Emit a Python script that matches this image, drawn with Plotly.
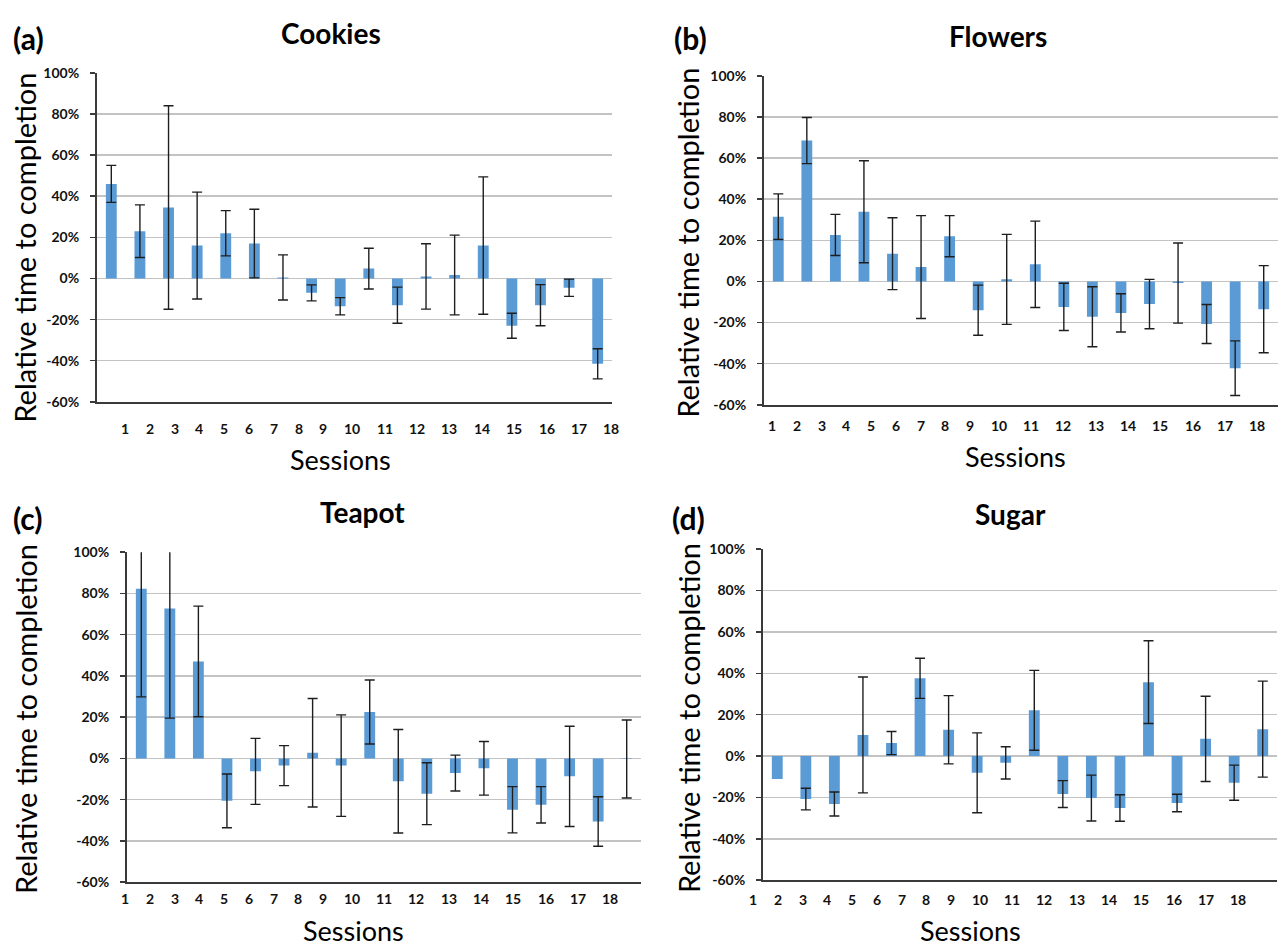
import numpy as np
import plotly.graph_objects as go

# ---------------- data ----------------
sessions = list(range(1, 19))
tick_labels = [str(i) for i in sessions]
y_tick_vals = [-60, -40, -20, 0, 20, 40, 60, 80, 100]
y_tick_text = [f"{v}%" for v in y_tick_vals]

cookies_mean = [46, 23, 34.5, 16, 22, 17, 0.5, -7, -13.5, 4.8, -13, 1, 1.7, 16, -23, -13, -4.5, -41.5]
cookies_err = [9, 12.8, 49.5, 26, 11, 16.7, 11, 3.9, 4.2, 9.9, 8.8, 15.9, 19.4, 33.4, 6.1, 10, 4.2, 7.3]

flowers_mean = [31.5, 68.5, 22.6, 33.9, 13.5, 7, 22, -14, 1, 8.3, -12.4, -17.2, -15.3, -11, -0.8, -20.7, -42.2, -13.5]
flowers_err = [11.1, 11.2, 10, 24.8, 17.5, 25, 10, 12.2, 21.9, 21, 11.5, 14.6, 9.3, 12, 19.5, 9.5, 13.3, 21.2]

teapot_mean = [82.2, 72.7, 47, -20.6, -6.3, -3.5, 2.7, -3.5, 22.5, -11.1, -17.1, -7.1, -4.8, -24.9, -22.5, -8.7, -30.6, -0.3]
teapot_err = [52.4, 53.2, 26.8, 13, 16, 9.7, 26.3, 24.6, 15.5, 25.1, 15, 8.7, 13, 11.2, 8.8, 24.3, 12, 18.9]

sugar_mean = [-11.1, -20.8, -23.2, 10.2, 6.3, 37.6, 12.7, -8.1, -3.3, 22.1, -18.4, -20.3, -25.1, 35.7, -22.7, 8.3, -12.9, 13]
sugar_err = [None, 5.2, 5.8, 28, 5.6, 9.7, 16.5, 19.3, 7.8, 19.3, 6.5, 11.1, 6.4, 20, 4.2, 20.6, 8.5, 23.2]

panel_letters = ["(a)", "(b)", "(c)", "(d)"]
panel_titles = ["Cookies", "Flowers", "Teapot", "Sugar"]
panel_means = [cookies_mean, flowers_mean, teapot_mean, sugar_mean]
panel_errs = [cookies_err, flowers_err, teapot_err, sugar_err]

# ---------------- layout (pixels) ----------------
W, H = 1280, 952
FONT = "Lato"
BAR_COLOR = "#5B9BD5"
GRID_COLOR = "#C3C3C3"
AXIS_COLOR = "#3A3A3A"

# plot area: x0, x1, y_top, y_bottom
areas = [(97, 612, 65, 400), (764, 1278, 68, 403), (127, 641, 553, 889), (763, 1277, 550, 887)]
# first x tick label position (in bar units) and vertical position of the labels
label_base = [1.48, 0.78, 0.43, 0.15]
label_y = [427, 424, 906, 907]
letter_pos = [(28, 30), (690, 30), (28, 518), (688, 518)]
title_pos = [(331, 24), (998, 27), (362, 512), (1010, 514)]
ytitle_pos = [(25, 243), (688, 238), (25, 723), (688, 722)]
xtitle_pos = [(340, 459), (1015, 456), (353, 938), (970, 938)]

DIGIT_W = 0.266
GAP = 0.601


def label_positions(base):
    pos = [base]
    for a, b in zip(tick_labels[:-1], tick_labels[1:]):
        pos.append(pos[-1] + DIGIT_W * (len(a) + len(b)) / 2 + GAP)
    return pos


def px(x):
    return x / W


def py(y):
    return 1 - y / H


fig = go.Figure()
annotations = []

for i in range(4):
    n = "" if i == 0 else str(i + 1)
    xa, ya = "x" + n, "y" + n
    errs = np.array([np.nan if e is None else e for e in panel_errs[i]], dtype=float)
    fig.add_trace(go.Bar(
        x=sessions, y=panel_means[i], xaxis=xa, yaxis=ya,
        width=0.38, marker=dict(color=BAR_COLOR, line=dict(width=0)),
        error_y=dict(type="data", array=errs, visible=True, color="#1E1E1E",
                     thickness=1.4, width=5),
        showlegend=False,
    ))
    x0, x1, yt, yb = areas[i]
    fig.update_layout(**{
        "xaxis" + n: dict(domain=[px(x0), px(x1)], range=[0.5, 18.5], anchor=ya,
                          showline=True, linecolor=AXIS_COLOR, linewidth=2,
                          showgrid=False, zeroline=False, showticklabels=False,
                          ticks="", fixedrange=True),
        "yaxis" + n: dict(domain=[py(yb), py(yt)], range=[-60, 100], anchor=xa,
                          tickvals=y_tick_vals, ticktext=y_tick_text,
                          showline=True, linecolor=AXIS_COLOR, linewidth=2,
                          showgrid=True, gridcolor=GRID_COLOR, gridwidth=1.5,
                          zeroline=False, ticks="outside", ticklen=5,
                          tickcolor=AXIS_COLOR, tickwidth=1.5,
                          ticklabelstandoff=8,
                          tickfont=dict(family=FONT, size=14, color="#111111",
                                        weight="bold"),
                          fixedrange=True),
    })
    # x tick labels placed as in the source (text-width based spacing)
    unit = (x1 - x0) / 18.0
    for lab, p in zip(tick_labels, label_positions(label_base[i])):
        annotations.append(dict(
            x=px(x0 + (p - 0.5) * unit), y=py(label_y[i]), xref="paper", yref="paper",
            text=lab, showarrow=False, xanchor="center", yanchor="middle",
            font=dict(family=FONT, size=14, color="#111111", weight="bold")))
    lx, ly = letter_pos[i]
    annotations.append(dict(x=px(lx), y=py(ly), xref="paper", yref="paper",
                            text=panel_letters[i], showarrow=False,
                            xanchor="center", yanchor="middle",
                            font=dict(family=FONT, size=30, color="#000000", weight="bold")))
    tx, ty = title_pos[i]
    annotations.append(dict(x=px(tx), y=py(ty), xref="paper", yref="paper",
                            text=panel_titles[i], showarrow=False,
                            xanchor="center", yanchor="middle",
                            font=dict(family=FONT, size=28, color="#000000", weight="bold")))
    yx, yy = ytitle_pos[i]
    annotations.append(dict(x=px(yx), y=py(yy), xref="paper", yref="paper",
                            text="Relative time to completion", showarrow=False,
                            textangle=-90, xanchor="center", yanchor="middle",
                            font=dict(family=FONT, size=29, color="#000000")))
    sx, sy = xtitle_pos[i]
    annotations.append(dict(x=px(sx), y=py(sy), xref="paper", yref="paper",
                            text="Sessions", showarrow=False,
                            xanchor="center", yanchor="middle",
                            font=dict(family=FONT, size=27, color="#000000")))

fig.update_layout(
    width=W, height=H, margin=dict(l=0, r=0, t=0, b=0),
    paper_bgcolor="white", plot_bgcolor="white",
    showlegend=False, annotations=annotations, barmode="group",
)

fig.write_html(
    "out.html",
    config={"displayModeBar": False, "staticPlot": True},
    post_script="document.body.style.margin='0px';document.body.style.overflow='hidden';",
)
